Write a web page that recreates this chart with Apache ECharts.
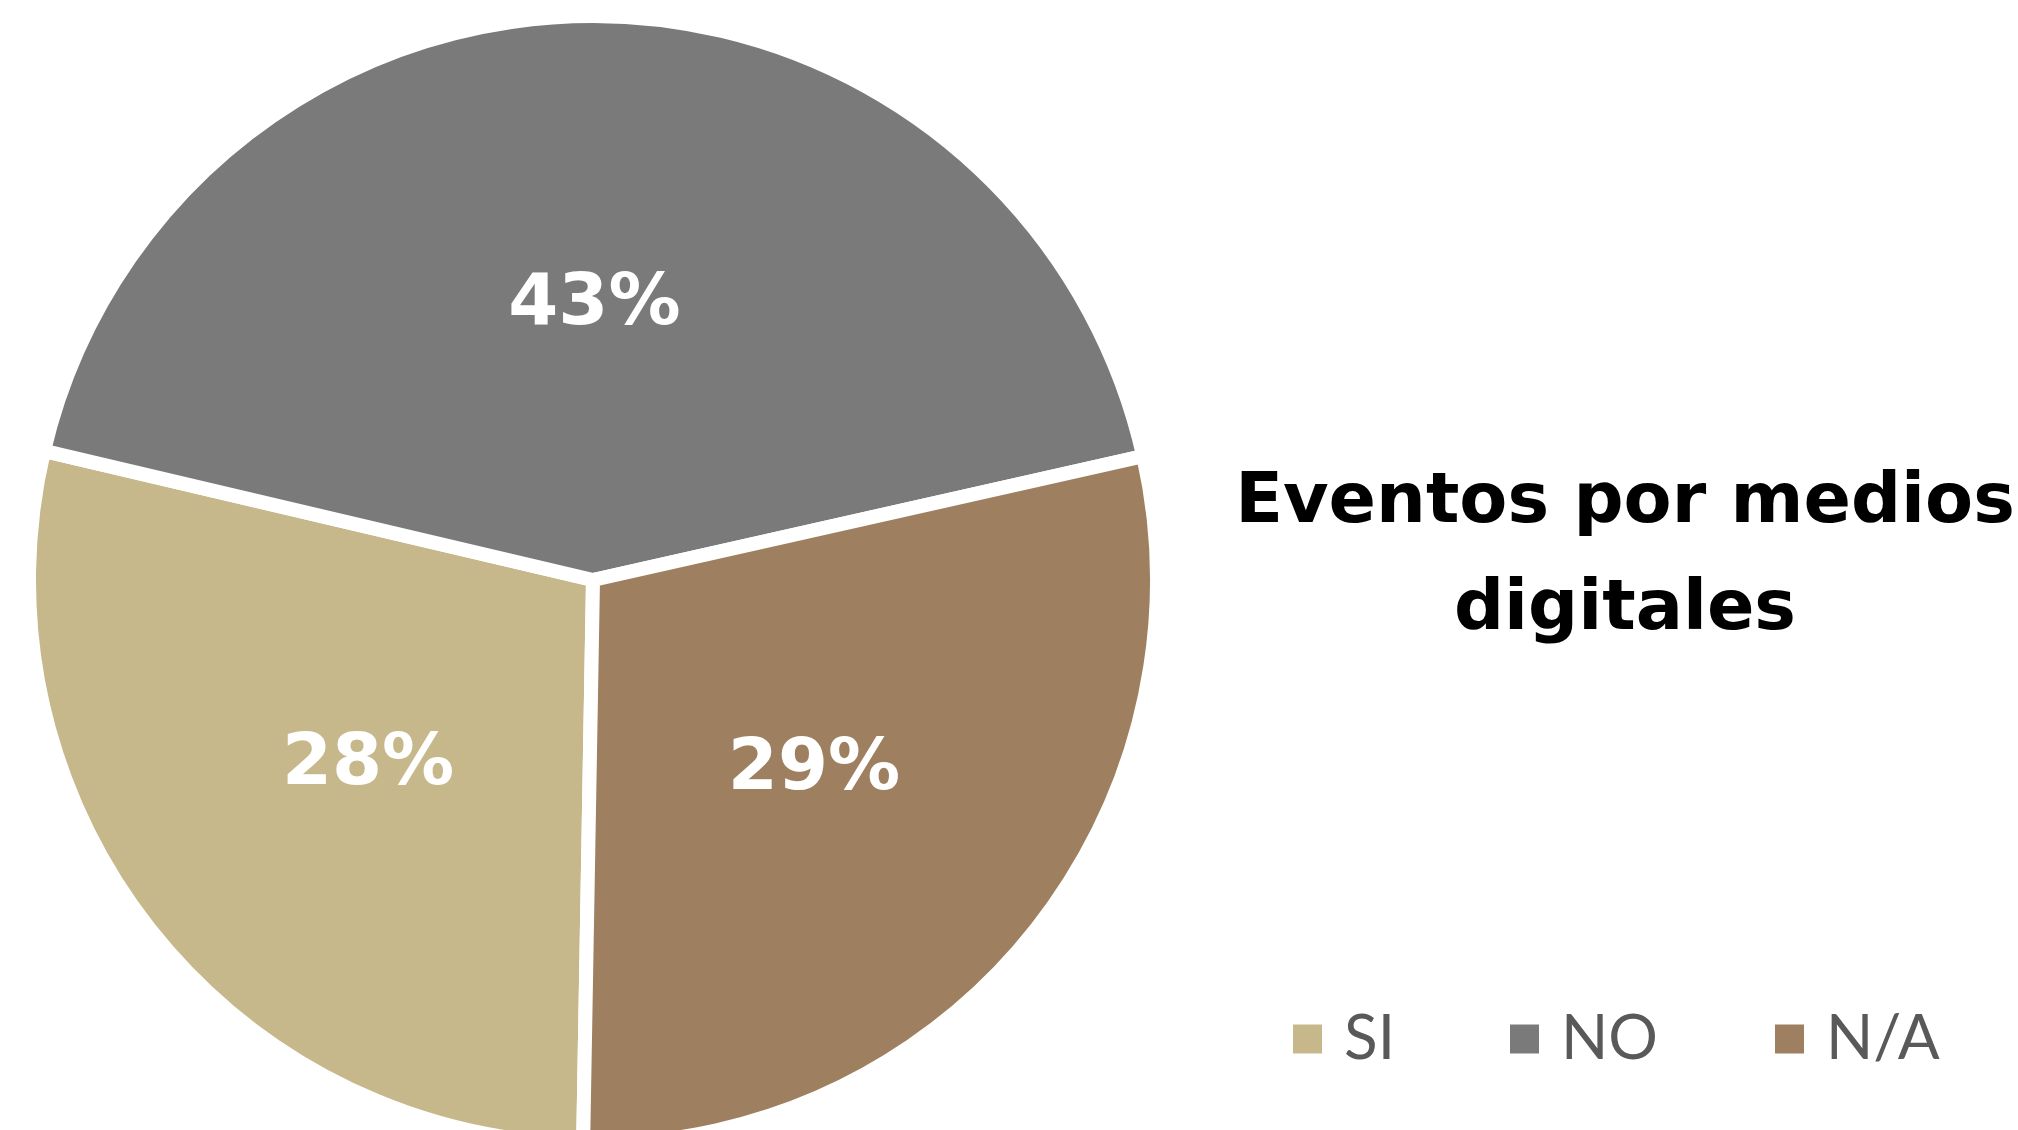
<!DOCTYPE html>
<html>
<head>
<meta charset="utf-8">
<script src="https://cdn.jsdelivr.net/npm/echarts@6/dist/echarts.min.js"></script>
<style>
html, body { margin: 0; padding: 0; background: #fff; }
#chart { width: 2018px; height: 1130px; }
</style>
</head>
<body>
<div id="chart"></div>
<script>
// datos
var categorias = ['SI', 'NO', 'N/A'];
var valores = [28.4, 42.8, 28.8];
var colores = ['#c7b88c', '#7a7a7a', '#9e7f5f'];
var legendLeft = [1291, 1508, 1773];

var chart = echarts.init(document.getElementById('chart'));

var serieData = categorias.map(function (c, i) {
    return { name: c, value: valores[i], itemStyle: { color: colores[i] } };
});

var legends = categorias.map(function (c, i) {
    return {
        data: [c],
        left: legendLeft[i],
        top: 1008,
        padding: 0,
        icon: 'rect',
        itemWidth: 31,
        itemHeight: 31,
        itemGap: 0,
        textStyle: { fontFamily: 'Lato', fontWeight: 'normal', fontSize: 62, color: '#595959', padding: [0, 0, 0, 16] }
    };
});

chart.setOption({
    animation: false,
    title: {
        text: 'Eventos por medios\ndigitales',
        left: 1620,
        top: 445,
        textAlign: 'center',
        textStyle: { fontFamily: 'DejaVu Sans', fontWeight: 'bold', fontSize: 70, lineHeight: 107, color: '#000' }
    },
    legend: legends,
    series: [{
        type: 'pie',
        center: [593, 580],
        radius: 564,
        startAngle: 269,
        clockwise: true,
        itemStyle: { borderColor: '#fff', borderWidth: 14 },
        label: {
            position: 'inside',
            formatter: function (p) { return Math.round(p.percent) + '%'; },
            fontFamily: 'DejaVu Sans',
            fontWeight: 'bold',
            fontSize: 72,
            color: '#fff'
        },
        labelLayout: { dy: 10 },
        labelLine: { show: false },
        emphasis: { disabled: true },
        data: serieData
    }]
});
</script>
</body>
</html>
